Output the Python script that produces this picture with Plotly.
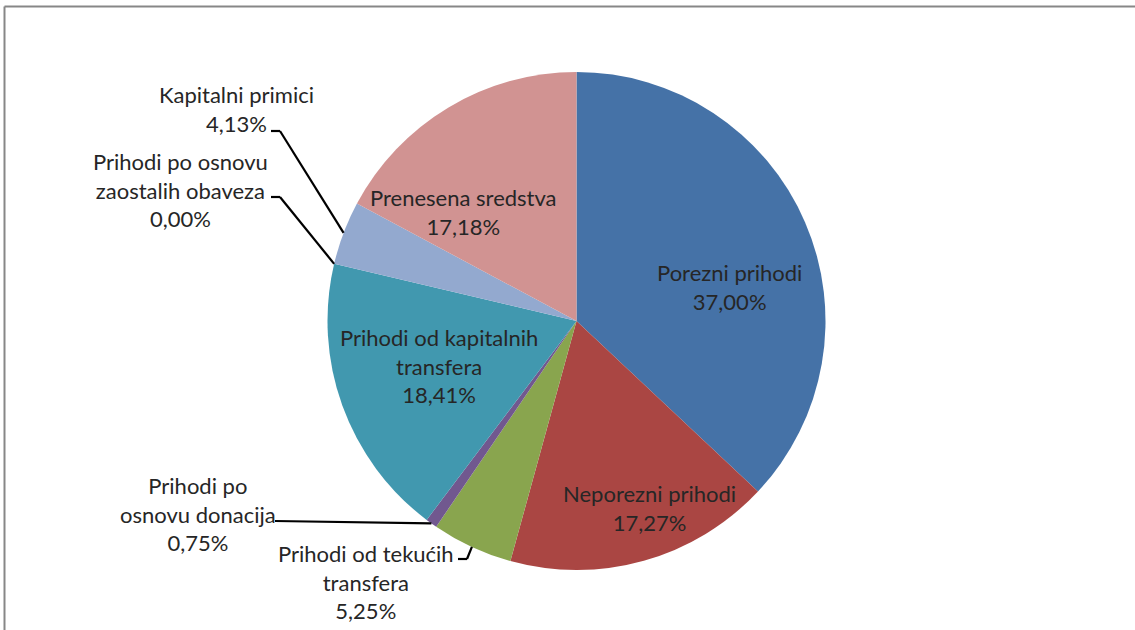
import math
import plotly.graph_objects as go

labels = ["Porezni prihodi", "Neporezni prihodi", "Prihodi od tekućih transfera",
          "Prihodi po osnovu donacija", "Prihodi od kapitalnih transfera",
          "Prihodi po osnovu zaostalih obaveza", "Kapitalni primici", "Prenesena sredstva"]
values = [37.00, 17.27, 5.25, 0.75, 18.41, 0.00, 4.13, 17.18]
colors = ["#4572A7", "#AA4643", "#89A54E", "#71588F", "#4198AF", "#DB843D", "#93A9CF", "#D19392"]
label_text = ["Porezni prihodi<br>37,00%", "Neporezni prihodi<br>17,27%",
              "Prihodi od tekućih<br>transfera<br>5,25%", "Prihodi po<br>osnovu donacija<br>0,75%",
              "Prihodi od kapitalnih<br>transfera<br>18,41%",
              "Prihodi po osnovu<br>zaostalih obaveza<br>0,00%",
              "Kapitalni primici<br>4,13%", "Prenesena sredstva<br>17,18%"]

W, H = 1135, 630
CX, CY, R = 576.5, 321, 249

# label centers (px) and leader line elbows (px)
label_pos = [(729, 287), (649, 508), (366, 582), (198, 514), (439, 366), (180, 190), (236, 109), (463, 212)]
elbows = {2: [(458, 559), (467, 559)], 3: [(275, 521)], 5: [(271, 197), (280, 197)], 6: [(271, 131), (280, 131)]}

FONT = "Lato"
fig = go.Figure(go.Pie(
    labels=labels, values=values, sort=False, direction="clockwise", rotation=0,
    marker=dict(colors=colors, line=dict(width=0)),
    textinfo="none", hoverinfo="label+percent", showlegend=False,
    domain=dict(x=[(CX - R) / W, (CX + R) / W], y=[(H - CY - R) / H, (H - CY + R) / H]),
))

def px(x, y):
    return x / W, 1 - y / H

annotations = []
for i, (t, (x, y)) in enumerate(zip(label_text, label_pos)):
    ax, ay = px(x, y)
    annotations.append(dict(x=ax, y=ay, xref="paper", yref="paper", text=t, showarrow=False,
                            xanchor="center", yanchor="middle",
                            font=dict(family=FONT, size=22, color="#262626"), align="center"))

shapes = []
total = sum(values)
cum = 0
for i, v in enumerate(values):
    mid = (cum + v / 2) / total * 2 * math.pi
    cum += v
    if i in elbows:
        ex, ey = CX + R * math.sin(mid), CY - R * math.cos(mid)
        pts = elbows[i] + [(ex, ey)]
        for (x0, y0), (x1, y1) in zip(pts[:-1], pts[1:]):
            a0, b0 = px(x0, y0)
            a1, b1 = px(x1, y1)
            shapes.append(dict(type="line", xref="paper", yref="paper", x0=a0, y0=b0, x1=a1, y1=b1,
                               line=dict(color="black", width=2.2)))

# outer frame (top and left edges; the rest lies outside the view)
fx, fy = px(4.5, 6.5)
shapes.append(dict(type="line", xref="paper", yref="paper", x0=fx, y0=fy, x1=1.0, y1=fy,
                   line=dict(color="#878787", width=2), layer="above"))
shapes.append(dict(type="line", xref="paper", yref="paper", x0=fx, y0=fy, x1=fx, y1=0.0,
                   line=dict(color="#878787", width=2), layer="above"))

fig.update_layout(width=W, height=H, margin=dict(l=0, r=0, t=0, b=0),
                  paper_bgcolor="white", plot_bgcolor="white",
                  annotations=annotations, shapes=shapes)
fig.write_html("out.html", config={"displayModeBar": False},
               post_script="document.body.style.margin='0px';document.body.style.overflow='hidden';")
